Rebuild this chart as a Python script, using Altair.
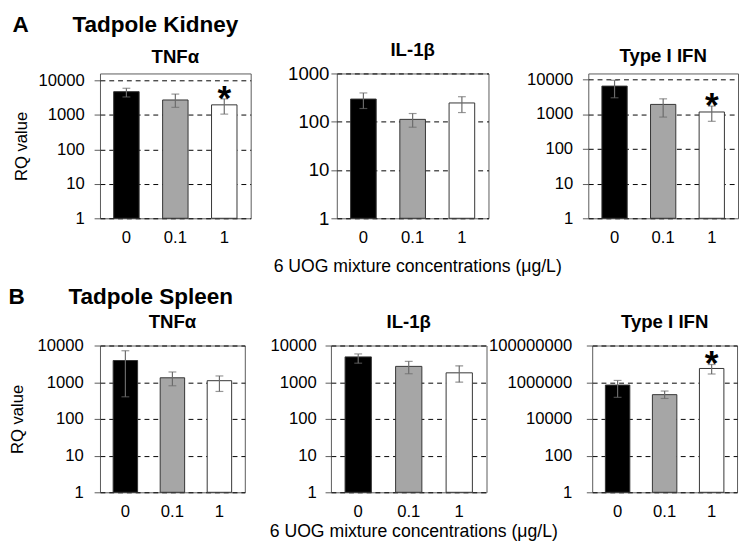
import altair as alt
import pandas as pd

conc = ["0", "0.1", "1"]

# Panel A: Tadpole Kidney
k_tnf = [4700, 2700, 1950]
k_tnf_lo = [3300, 1650, 1050]
k_tnf_hi = [5900, 4000, 2900]
k_tnf_star = [0, 0, 1]

k_il1 = [295, 112, 245]
k_il1_lo = [188, 77, 155]
k_il1_hi = [395, 148, 330]
k_il1_star = [0, 0, 0]

k_ifn = [6400, 1900, 1150]
k_ifn_lo = [2950, 820, 620]
k_ifn_hi = [9400, 2750, 1700]
k_ifn_star = [0, 0, 1]

# Panel B: Tadpole Spleen
s_tnf = [3900, 1320, 1100]
s_tnf_lo = [400, 800, 560]
s_tnf_hi = [7200, 1900, 1480]
s_tnf_star = [0, 0, 0]

s_il1 = [4900, 2700, 1800]
s_il1_lo = [3300, 1700, 1000]
s_il1_hi = [5900, 3700, 2800]
s_il1_star = [0, 0, 0]

s_ifn = [700000, 210000, 5600000]
s_ifn_lo = [150000, 130000, 2800000]
s_ifn_hi = [1250000, 330000, 9200000]
s_ifn_star = [0, 0, 1]

ticks_dec = [1, 10, 100, 1000, 10000]
ticks_il1 = [1, 10, 100, 1000]
ticks_big = [1, 100, 10000, 1000000, 100000000]

FONT = "Liberation Sans"


def panel(title, vals, lo, hi, stars, ymin, ymax, ticks, width, height,
          extent, ytitle, fills, lpad=10, lsize=17):
    df = pd.DataFrame({"conc": conc, "val": vals, "lo": lo, "hi": hi,
                       "base": [ymin] * len(conc), "star": stars})
    x = alt.X("conc:N", sort=conc, title=None,
              scale=alt.Scale(paddingInner=0.48, paddingOuter=0.28),
              axis=alt.Axis(labelAngle=0, ticks=False, domain=False,
                            labelFontSize=17, labelPadding=12,
                            labelColor="#000", grid=False))
    yscale = alt.Scale(type="log", domain=[ymin, ymax], nice=False)
    axis_kw = dict(values=ticks, format="d", grid=True, gridDash=[5, 4],
                   gridColor="#000", gridWidth=1, tickSize=6,
                   tickColor="#595959", domain=False, labelFontSize=lsize,
                   labelPadding=lpad, labelColor="#000",
                   minExtent=extent, maxExtent=extent, titleFontSize=17,
                   titleFontWeight="normal", titlePadding=5,
                   titleColor="#000")
    yaxis = alt.Axis(title=ytitle if ytitle else "", **axis_kw)
    base = alt.Chart(df)
    bars = base.mark_bar(stroke="#333333", strokeWidth=1).encode(
        x=x,
        y=alt.Y("val:Q", scale=yscale, axis=yaxis),
        y2="base:Q",
        fill=alt.Fill("conc:N", scale=alt.Scale(domain=conc, range=fills),
                      legend=None),
    )
    err = base.mark_rule(color="#6b6b6b", strokeWidth=1.2).encode(
        x=x, y=alt.Y("lo:Q", scale=yscale, axis=yaxis), y2="hi:Q")
    cap_lo = base.mark_tick(color="#6b6b6b", size=8, thickness=1.2).encode(
        x=x, y=alt.Y("lo:Q", scale=yscale, axis=yaxis))
    cap_hi = base.mark_tick(color="#6b6b6b", size=8, thickness=1.2).encode(
        x=x, y=alt.Y("hi:Q", scale=yscale, axis=yaxis))
    star = base.transform_filter("datum.star == 1").mark_text(
        text="*", fontSize=36, fontWeight="bold", color="#000",
        baseline="alphabetic", dy=11, font=FONT).encode(
        x=x, y=alt.Y("hi:Q", scale=yscale, axis=yaxis))
    return alt.layer(bars, err, cap_lo, cap_hi, star).properties(
        width=width, height=height,
        title=alt.TitleParams(title, fontSize=19, fontWeight="bold",
                              offset=5, color="#000"))


A_fill = ["#000000", "#a6a6a6", "#ffffff"]
A3_fill = ["#000000", "#c0c0c0", "#ffffff"]

A1 = panel("TNFα", k_tnf, k_tnf_lo, k_tnf_hi, k_tnf_star, 1, 10 ** 4.2,
           ticks_dec, 154, 148, 66, "RQ value", A_fill, lpad=10)
A2 = panel("IL-1β", k_il1, k_il1_lo, k_il1_hi, k_il1_star, 1, 1000,
           ticks_il1, 155, 148, 86, None, A_fill, lpad=2, lsize=19)
A3 = panel("Type I IFN", k_ifn, k_ifn_lo, k_ifn_hi, k_ifn_star, 1,
           10 ** 4.17, ticks_dec, 153, 148, 100, None, A3_fill, lpad=10)

B1 = panel("TNFα", s_tnf, s_tnf_lo, s_tnf_hi, s_tnf_star, 1, 10000,
           ticks_dec, 148, 150, 70, "RQ value", A_fill, lpad=11)
B2 = panel("IL-1β", s_il1, s_il1_lo, s_il1_hi, s_il1_star, 1, 10000,
           ticks_dec, 159, 150, 86, None, A_fill, lpad=9)
B3 = panel("Type I IFN", s_ifn, s_ifn_lo, s_ifn_hi, s_ifn_star, 1, 1e8,
           ticks_big, 148, 150, 102, None, A_fill, lpad=15)

xtitle = "6 UOG mixture concentrations (μg/L)"


def row(panels, label, name, xoff):
    h = alt.hconcat(*panels, spacing=0).properties(
        title=alt.TitleParams(xtitle, orient="bottom", anchor="start",
                              dx=267, fontSize=18, fontWeight="normal",
                              offset=xoff, color="#000"))
    return alt.vconcat(h).properties(
        title=alt.TitleParams(label + "\u00a0" * 7 + name, anchor="start",
                              fontSize=23, fontWeight="bold", offset=4,
                              color="#000"))


chart = alt.vconcat(
    row([A1, A2, A3], "A", "Tadpole Kidney", 12),
    row([B1, B2, B3], "B", "Tadpole Spleen", 3),
    spacing=10,
).properties(
    padding={"left": 0, "top": 0, "right": 0, "bottom": 0}
).configure(
    font=FONT
).configure_view(
    stroke="#595959", strokeWidth=1
).configure_title(
    font=FONT
).configure_axis(
    labelFont=FONT, titleFont=FONT
)

chart.save("out.html", embed_options={"renderer": "svg", "actions": False})
